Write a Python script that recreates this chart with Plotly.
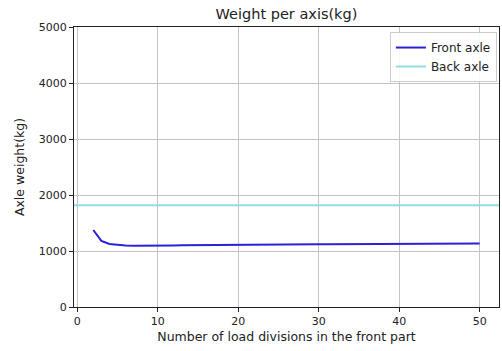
import plotly.graph_objects as go

divisions = list(range(2, 51))
front_axle = [1375, 1180, 1125, 1105, 1097, 1093, 1092, 1093, 1095, 1097,
              1099, 1101, 1103, 1105, 1106, 1108, 1109, 1110, 1111, 1112,
              1113, 1114, 1115, 1116, 1117, 1118, 1119, 1120, 1121, 1122,
              1122, 1123, 1124, 1125, 1125, 1126, 1127, 1127, 1128, 1129,
              1129, 1130, 1131, 1131, 1132, 1133, 1133, 1134, 1135]
back_axle = 1815

x_ticks = [0, 10, 20, 30, 40, 50]
y_ticks = [0, 1000, 2000, 3000, 4000, 5000]

FONT = "DejaVu Sans"
front_color = "#2a22d8"
back_color = "#92dede"

fig = go.Figure()
fig.add_trace(go.Scatter(x=divisions, y=front_axle, mode="lines",
                         name="Front axle",
                         line=dict(color=front_color, width=2)))
fig.add_trace(go.Scatter(x=[None], y=[None], mode="lines", name="Back axle",
                         line=dict(color=back_color, width=2)))
fig.add_hline(y=back_axle, line=dict(color=back_color, width=2))

axis_common = dict(showgrid=True, gridcolor="#c4c4c4", gridwidth=1,
                   showline=True, linecolor="#222222", linewidth=1, mirror=True,
                   ticks="outside", ticklen=4, tickcolor="#222222",
                   zeroline=False, tickfont=dict(family=FONT, size=11, color="#222222"))

fig.update_layout(
    width=502, height=351,
    margin=dict(l=74, r=3, t=27, b=44),
    paper_bgcolor="white", plot_bgcolor="white",
    font=dict(family=FONT, size=11, color="#222222"),
    title=dict(text="Weight per axis(kg)", x=0.5, xref="paper", xanchor="center",
               y=0.96, yref="container", yanchor="middle",
               font=dict(family=FONT, size=14.5, color="#222222")),
    xaxis=dict(range=[-0.4, 52.4], tickvals=x_ticks,
               title=dict(text="Number of load divisions in the front part",
                          font=dict(family=FONT, size=12.5), standoff=5),
               **axis_common),
    yaxis=dict(range=[0, 5000], tickvals=y_ticks,
               title=dict(text="Axle weight(kg)", font=dict(family=FONT, size=12.5),
                          standoff=11),
               **axis_common),
    legend=dict(x=0.995, y=0.982, xanchor="right", yanchor="top",
                bgcolor="rgba(255,255,255,0.9)", bordercolor="#cccccc", borderwidth=1,
                font=dict(family=FONT, size=12, color="#222222"),
                tracegroupgap=0, itemwidth=30),
    showlegend=True,
)

fig.write_html("out.html", config={"displayModeBar": False},
               post_script="document.body.style.margin='0';document.body.style.overflow='hidden';")
